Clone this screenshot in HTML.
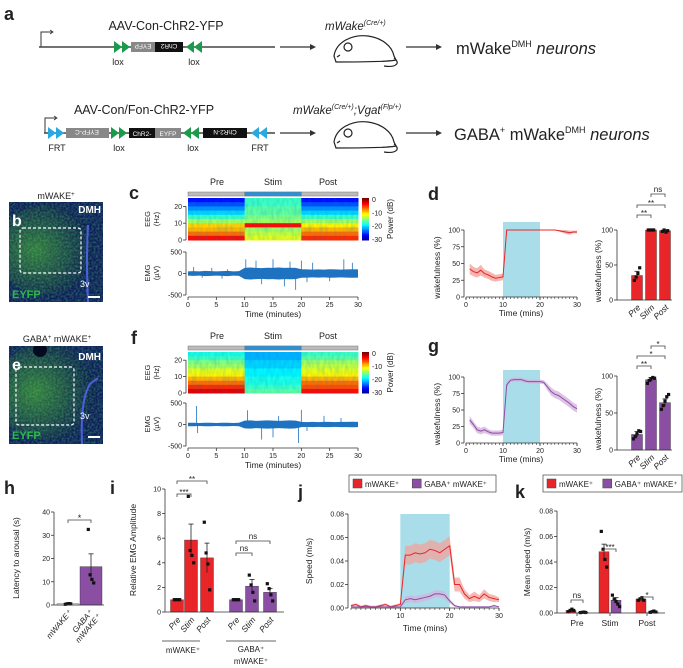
<!DOCTYPE html>
<html><head><meta charset="utf-8"><style>
body{margin:0;background:#fff}
svg{display:block;font-family:"Liberation Sans",Arial,sans-serif}
text{fill:#222}
</style></head><body>
<svg id="fig" width="683" height="668" viewBox="0 0 683 668" xmlns="http://www.w3.org/2000/svg">
<defs>
<filter id="tex" x="0" y="0" width="100%" height="100%"><feTurbulence type="fractalNoise" baseFrequency="0.35 0.12" numOctaves="2" seed="3"/><feColorMatrix type="matrix" values="0 0 0 0 0  0 0 0 0 0.2  0 0 0 0 0.6  0 0 0 0.9 -0.3"/></filter>
<filter id="tex2" x="0" y="0" width="100%" height="100%"><feTurbulence type="fractalNoise" baseFrequency="0.5" numOctaves="2" seed="7"/><feColorMatrix type="matrix" values="0 0 0 0 0.1  0 0 0 0 0.7  0 0 0 0 0.2  0 0 0 1.2 -0.4"/></filter>
<radialGradient id="glow" cx="0.4" cy="0.5" r="0.6"><stop offset="0" stop-color="#3a8a3a"/><stop offset="1" stop-color="#0b1a50"/></radialGradient>
<clipPath id="clipB"><rect x="9" y="202" width="94" height="100"/></clipPath>
<clipPath id="clipE"><rect x="9" y="346" width="94" height="98"/></clipPath>
</defs>

<!-- Panel a -->
<g>
<text x="4" y="20" font-size="18" font-weight="bold">a</text>
<g>
<text x="166" y="30" font-size="12.5" text-anchor="middle">AAV-Con-ChR2-YFP</text>
<path d="M41 47 V32 H52" fill="none" stroke="#333" stroke-width="1"/><path d="M50 30 l3 2 l-3 2" fill="none" stroke="#333" stroke-width="0.8"/>
<line x1="39" y1="47" x2="275" y2="47" stroke="#444" stroke-width="1.5"/>
<polygon points="114,41 122,47 114,53" fill="#1a9a4a"/><polygon points="122,41 130,47 122,53" fill="#1a9a4a"/>
<rect x="131" y="42" width="24" height="10" fill="#888"/><text x="143" y="50" font-size="6.5" text-anchor="middle" transform="rotate(180 143 47)" style="fill:#fff">EYFP</text>
<rect x="155" y="42" width="28" height="10" fill="#111"/><text x="169" y="50" font-size="6.5" text-anchor="middle" transform="rotate(180 169 47)" style="fill:#fff">ChR2</text>
<polygon points="194,41 186,47 194,53" fill="#1a9a4a"/><polygon points="202,41 194,47 202,53" fill="#1a9a4a"/>
<text x="118" y="65" font-size="9" text-anchor="middle">lox</text><text x="194" y="65" font-size="9" text-anchor="middle">lox</text>
</g>
<g>
<text x="144" y="114" font-size="12.5" text-anchor="middle">AAV-Con/Fon-ChR2-YFP</text>
<path d="M45 133 V118 H56" fill="none" stroke="#333" stroke-width="1"/><path d="M54 116 l3 2 l-3 2" fill="none" stroke="#333" stroke-width="0.8"/>
<line x1="44" y1="133" x2="275" y2="133" stroke="#444" stroke-width="1.5"/>
<polygon points="48,127 56,133 48,139" fill="#2aa8e0"/><polygon points="56,127 64,133 56,139" fill="#2aa8e0"/>
<rect x="66" y="128" width="43" height="10" fill="#888"/><text x="87" y="136" font-size="6.5" text-anchor="middle" transform="rotate(180 87 133)" style="fill:#fff">EYFP-C</text>
<polygon points="111,127 119,133 111,139" fill="#1a9a4a"/><polygon points="119,127 127,133 119,139" fill="#1a9a4a"/>
<rect x="129" y="128" width="26" height="10" fill="#111"/><text x="142" y="136" font-size="6.5" text-anchor="middle" style="fill:#fff">ChR2-</text>
<rect x="155" y="128" width="26" height="10" fill="#888"/><text x="168" y="136" font-size="6.5" text-anchor="middle" style="fill:#fff">EYFP</text>
<polygon points="191,127 183,133 191,139" fill="#1a9a4a"/><polygon points="199,127 191,133 199,139" fill="#1a9a4a"/>
<rect x="203" y="128" width="44" height="10" fill="#111"/><text x="225" y="136" font-size="6.5" text-anchor="middle" transform="rotate(180 225 133)" style="fill:#fff">ChR2-N</text>
<polygon points="259,127 251,133 259,139" fill="#2aa8e0"/><polygon points="267,127 259,133 267,139" fill="#2aa8e0"/>
<text x="57" y="151" font-size="9" text-anchor="middle">FRT</text><text x="119" y="151" font-size="9" text-anchor="middle">lox</text><text x="193" y="151" font-size="9" text-anchor="middle">lox</text><text x="260" y="151" font-size="9" text-anchor="middle">FRT</text>
</g>
<g stroke="#333" stroke-width="1.2" fill="#333">
<line x1="280" y1="47" x2="310" y2="47"/><polygon points="310,44 316,47 310,50" stroke="none"/>
<line x1="406" y1="47" x2="436" y2="47"/><polygon points="436,44 442,47 436,50" stroke="none"/>
<line x1="280" y1="133" x2="310" y2="133"/><polygon points="310,130 316,133 310,136" stroke="none"/>
<line x1="406" y1="133" x2="436" y2="133"/><polygon points="436,130 442,133 436,136" stroke="none"/>
</g>
<g fill="none" stroke="#222" stroke-width="1.2">
<path d="M334 56 C336 42 352 34 368 36 C382 38 392 46 394 56 L396 60 C388 62 352 62 336 62 Z"/><path d="M394 58 C400 62 398 68 384 66"/><circle cx="348" cy="47" r="4"/><path d="M340 55 l-3 2"/>
</g>
<g fill="none" stroke="#222" stroke-width="1.2">
<path d="M334 142 C336 128 352 120 368 122 C382 124 392 132 394 142 L396 146 C388 148 352 148 336 148 Z"/><path d="M394 144 C400 148 398 154 384 152"/><circle cx="348" cy="133" r="4"/><path d="M340 141 l-3 2"/>
</g>
<text x="325" y="30" font-size="11.5" font-style="italic">mWake<tspan font-size="7" dy="-5">(Cre/+)</tspan></text>
<text x="293" y="114" font-size="11.5" font-style="italic">mWake<tspan font-size="7" dy="-5">(Cre/+)</tspan><tspan dy="5">;Vgat</tspan><tspan font-size="7" dy="-5">(Flp/+)</tspan></text>
<text x="456" y="54" font-size="16.5">mWake<tspan font-size="9" dy="-7">DMH</tspan><tspan dy="7" font-style="italic"> neurons</tspan></text>
<text x="454" y="140" font-size="16.5">GABA<tspan font-size="9" dy="-7">+</tspan><tspan dy="7"> mWake</tspan><tspan font-size="9" dy="-7">DMH</tspan><tspan dy="7" font-style="italic"> neurons</tspan></text>
</g>

<!-- Panel b & e images -->
<g>
<text x="56" y="199" font-size="9" text-anchor="middle">mWAKE<tspan font-size="6" dy="-3">+</tspan></text>
<g clip-path="url(#clipB)">
<rect x="9" y="202" width="94" height="100" fill="#0e1d5a"/>
<ellipse cx="45" cy="250" rx="48" ry="45" fill="url(#glow)" opacity="0.85"/>
<rect x="9" y="202" width="94" height="100" filter="url(#tex2)" opacity="0.6"/>
<path d="M88 225 Q86 260 88 302" stroke="#4a60e0" stroke-width="2" fill="none"/>
</g>
<rect x="20" y="228" width="61" height="45" fill="none" stroke="#fff" stroke-dasharray="3,2" stroke-width="1.2" rx="3"/>
<text x="12" y="226" font-size="16" font-weight="bold" style="fill:#fff">b</text>
<text x="101" y="213" font-size="10" font-weight="bold" text-anchor="end" style="fill:#fff">DMH</text>
<text x="80" y="287" font-size="9" style="fill:#fff">3v</text>
<text x="12" y="298" font-size="11" font-weight="bold" style="fill:#2fb84a">EYFP</text>
<line x1="88" y1="297" x2="100" y2="297" stroke="#fff" stroke-width="2"/>
</g>
<g>
<text x="57" y="342" font-size="9" text-anchor="middle">GABA<tspan font-size="6" dy="-3">+</tspan><tspan dy="3"> mWAKE</tspan><tspan font-size="6" dy="-3">+</tspan></text>
<g clip-path="url(#clipE)">
<rect x="9" y="346" width="94" height="98" fill="#0e1d5a"/>
<ellipse cx="45" cy="392" rx="50" ry="48" fill="url(#glow)" opacity="0.9"/>
<rect x="9" y="346" width="94" height="98" filter="url(#tex2)" opacity="0.6"/>
<path d="M82 444 Q80 400 90 384 L98 378" stroke="#4a60e0" stroke-width="2" fill="none"/>
<circle cx="40" cy="350" r="7" fill="#050a20"/>
</g>
<rect x="16" y="367" width="58" height="58" fill="none" stroke="#fff" stroke-dasharray="3,2" stroke-width="1.2" rx="3"/>
<text x="12" y="370" font-size="16" font-weight="bold" style="fill:#fff">e</text>
<text x="101" y="360" font-size="10" font-weight="bold" text-anchor="end" style="fill:#fff">DMH</text>
<text x="80" y="419" font-size="9" style="fill:#fff">3v</text>
<text x="12" y="439" font-size="11" font-weight="bold" style="fill:#2fb84a">EYFP</text>
<line x1="88" y1="437" x2="100" y2="437" stroke="#fff" stroke-width="2"/>
</g>

<g id="charts"></g>
</svg>

<script>
// ---------- DATA ----------
const specBands = [25,22.5,20,17.5,15,12.5,10,7.5,5,2.5];
const specSegments = ["Pre","Stim","Post"];
const specC = [[-26,-17,-26],[-24,-17,-24],[-22,-16,-22],[-20,-16,-20],[-17,-15,-17],[-14,-14,-14],[-10,-4,-11],[-9,-14,-9],[-7,-13,-7],[-4,-12,-5]];
const specF = [[-18,-21,-17],[-17,-21,-16],[-15,-20,-14],[-14,-20,-13],[-12,-19,-12],[-11,-19,-11],[-9,-18,-9],[-7,-18,-7],[-5,-17,-6],[-3,-16,-4]];
const emgMinutes = [0,1,2,3,4,5,6,7,8,9,10,11,12,13,14,15,16,17,18,19,20,21,22,23,24,25,26,27,28,29,30];
const emgEnvC = [50,55,50,60,55,50,55,60,50,55,130,140,130,125,135,130,140,130,135,130,100,95,90,95,90,100,95,90,95,100,95];
const emgSpikesC = [[1,150],[2.5,-100],[4.2,130],[6,-120],[7,100],[10.2,330],[12,300],[13,-250],[15,330],[17,-300],[18,280],[19,-380],[20,300],[21,-200],[22,250],[25,-180],[27.5,330],[29,250]];
const emgEnvF = [40,40,35,40,40,35,40,40,35,40,90,95,85,90,95,90,85,90,95,90,60,55,60,55,60,60,55,60,60,65,60];
const emgSpikesF = [[1.5,430],[1.7,-200],[10.5,330],[13,-350],[15,-300],[16,200],[19.5,-430],[20,340],[21,-150],[24,200],[27,150]];

const minutes = [0,1,2,3,4,5,6,7,8,9,10,11,12,13,14,15,16,17,18,19,20,21,22,23,24,25,26,27,28,29,30];
const wakeD = [40,42,38,36,40,35,33,30,28,29,30,100,100,100,100,100,100,100,100,100,100,100,100,100,100,99,98,97,96,97,97];
const wakeDErr = [8,8,7,7,8,6,6,6,5,5,5,0,0,0,0,0,0,0,0,0,0,0,0,0,0,1,2,3,3,2,2];
const wakeG = [40,35,28,20,18,20,17,15,15,15,16,88,95,96,96,96,94,93,93,93,93,92,85,78,74,72,68,64,60,55,52];
const wakeGErr = [6,6,5,5,5,5,4,4,4,4,4,5,3,3,3,3,3,3,3,3,3,3,5,6,6,6,6,6,6,6,6];
const barCats = ["Pre","Stim","Post"];
const barD = [35,100,99];
const barDErr = [6,0,1];
const ptsD = [[28,33,38,46],[100,100,100,100],[98,100,97,99]];
const barG = [21,95,64];
const barGErr = [4,3,5];
const ptsG = [[15,18,22,26,25],[90,94,96,98,97],[55,60,66,72,75]];

const latCats = ["mWAKE+","GABA+ mWAKE+"];
const latVals = [0.5,16.5];
const latErr = [0.1,5.5];
const latPts = [[0.3,0.5,0.6,0.5],[32.5,13,11,9.5]];

const emgCats = ["Pre","Stim","Post","Pre","Stim","Post"];
const emgVals = [1,5.85,4.4,1,2.1,1.6];
const emgErr = [0,1.3,1.2,0,0.55,0.3];
const emgPts = [[1,1,1,1],[9.4,5.0,4.6,4.0],[7.3,4.8,3.9,1.8],[1,1,1,1],[3.0,2.2,1.6,0.9],[2.3,1.9,1.4,0.9]];

const speedRed = [0.002,0.003,0.001,0.002,0.001,0.001,0.002,0.003,0.001,0.002,0.003,0.045,0.045,0.047,0.046,0.047,0.05,0.049,0.047,0.05,0.053,0.02,0.02,0.012,0.008,0.01,0.008,0.012,0.009,0.008,0.007];
const speedRedErr = [0.001,0.001,0.001,0.001,0.001,0.001,0.001,0.001,0.001,0.001,0.001,0.008,0.008,0.008,0.008,0.008,0.008,0.008,0.008,0.008,0.008,0.006,0.006,0.004,0.003,0.004,0.003,0.004,0.003,0.003,0.002];
const speedPurple = [0.001,0.001,0.001,0.001,0.001,0.001,0.001,0.001,0.001,0.001,0.001,0.007,0.008,0.007,0.008,0.009,0.01,0.012,0.012,0.011,0.006,0.002,0.001,0.001,0.001,0.001,0.001,0.001,0.001,0.002,0.001];
const speedPurpleErr = [0,0,0,0,0,0,0,0,0,0,0,0.003,0.003,0.003,0.003,0.003,0.003,0.003,0.003,0.003,0.002,0.001,0,0,0,0,0,0,0,0.001,0];
const speedCats = ["Pre","Stim","Post"];
const meanRed = [0.002,0.048,0.011];
const meanRedErr = [0.0005,0.006,0.001];
const meanPurple = [0.0005,0.01,0.001];
const meanPurpleErr = [0.0002,0.002,0.0005];
const meanRedPts = [[0.001,0.002,0.003,0.002],[0.064,0.05,0.042,0.036],[0.01,0.011,0.012,0.01]];
const meanPurplePts = [[0.0003,0.0005,0.0007,0.0004],[0.014,0.011,0.009,0.007,0.005],[0.0005,0.001,0.0015,0.0008]];

const RED="#e8262a", PUR="#8a4ea3", REDL="#f2a39c", PURL="#d4b3de", SHADE="#a8dde9", EMGC="#1f72c0";

// ---------- HELPERS ----------
const NS="http://www.w3.org/2000/svg";
const root=document.getElementById('charts');
function mk(tag,attrs,parent){const e=document.createElementNS(NS,tag);for(const k in attrs)e.setAttribute(k,attrs[k]);(parent||root).appendChild(e);return e;}
function lin(d0,d1,r0,r1){return v=>r0+(v-d0)/(d1-d0)*(r1-r0);}
function txt(x,y,s,size,anchor,parent,extra){const t=mk('text',Object.assign({x:x,y:y,'font-size':size,'text-anchor':anchor||'start'},extra||{}),parent);t.textContent=s;return t;}
function jet(db){let v=Math.max(0,Math.min(1,(db+30)/30));const r=Math.max(0,Math.min(1,1.5-Math.abs(4*v-3))),g=Math.max(0,Math.min(1,1.5-Math.abs(4*v-2))),b=Math.max(0,Math.min(1,1.5-Math.abs(4*v-1)));return `rgb(${Math.round(r*255)},${Math.round(g*255)},${Math.round(b*255)})`;}
function yAxis(g,x,sy,ticks,labels,size){
  const lo=Math.min(...ticks),hi=Math.max(...ticks);
  mk('line',{x1:x,y1:sy(lo),x2:x,y2:sy(hi),stroke:'#333','stroke-width':0.8},g);
  ticks.forEach((t,i)=>{mk('line',{x1:x-3,y1:sy(t),x2:x,y2:sy(t),stroke:'#333','stroke-width':0.8},g);
    txt(x-4,sy(t)+2.5,labels[i],size||7,'end',g);});
}
function xAxis(g,y,sx,lo,hi,minor,ticks,labels,size){
  mk('line',{x1:sx(lo),y1:y,x2:sx(hi),y2:y,stroke:'#333','stroke-width':0.8},g);
  if(minor)for(let v=lo;v<=hi;v+=minor)mk('line',{x1:sx(v),y1:y,x2:sx(v),y2:y+2,stroke:'#333','stroke-width':0.6},g);
  ticks.forEach((t,i)=>{mk('line',{x1:sx(t),y1:y,x2:sx(t),y2:y+3,stroke:'#333','stroke-width':0.8},g);
    txt(sx(t),y+10,labels[i],size||7,'middle',g);});
}
function panelLetter(x,y,s){const t=txt(x,y,s,18,'start',root,{'font-weight':'bold'});}
function bracket(g,x1,x2,y,label,size){mk('path',{d:`M${x1} ${y+3} V${y} H${x2} V${y+3}`,fill:'none',stroke:'#444','stroke-width':0.8},g);txt((x1+x2)/2,label==='ns'?y-2:y+1,label,size||8,'middle',g);}
function rotLabel(x,y,s,size,parent){txt(x,y,s,size,'middle',parent,{transform:`rotate(-90 ${x} ${y})`});}

// ---------- SPECTROGRAM + EMG ----------
function specPanel(name,y0,y1,mat,emgY,env,spikes,titleY,barY){
  const g=mk('g',{});
  
  
  const sx=lin(0,30,188,358), sf=lin(0,25,y1,y0);
  txt(217,titleY,'Pre',9,'middle',g);txt(273,titleY,'Stim',9,'middle',g);txt(328,titleY,'Post',9,'middle',g);
  mk('rect',{x:sx(0),y:barY,width:sx(30)-sx(0),height:4,fill:'#bbb',stroke:'#777','stroke-width':0.5},g);
  mk('rect',{x:sx(10),y:barY,width:sx(20)-sx(10),height:4,fill:'#2a90d8',stroke:'#777','stroke-width':0.5},g);
  specBands.forEach((top,bi)=>{specSegments.forEach((s,si)=>{
    const c=mk('rect',{x:sx(si*10),y:sf(top),width:sx(10)-sx(0)+0.5,height:sf(top-2.5)-sf(top)+0.5,fill:jet(mat[bi][si])},g);
    
    
  });});
  mk('rect',{x:sx(0),y:y0,width:sx(30)-sx(0),height:y1-y0,filter:'url(#tex)',opacity:0.45},g);
  yAxis(g,186,sf,[0,10,20],['0','10','20'],7);
  rotLabel(150,(y0+y1)/2,'EEG',7.5,g);rotLabel(159,(y0+y1)/2,'(Hz)',7.5,g);
  for(let i=0;i<30;i++){mk('rect',{x:362,y:y0+(y1-y0)*i/30,width:7,height:(y1-y0)/30+0.5,fill:jet(-i)},g);}
  const sc=lin(0,-30,y0+1,y1-1);
  [0,-10,-20,-30].forEach(v=>txt(372,sc(v)+3,String(v),7,'start',g));
  rotLabel(393,(y0+y1)/2,'Power (dB)',8,g);
  const se=lin(-500,500,emgY+43,emgY);
  const up=env.map((a,i)=>`${sx(emgMinutes[i])},${se(a)}`).join(' ');
  const dn=env.map((a,i)=>`${sx(emgMinutes[i])},${se(-a)}`).reverse().join(' ');
  const area=mk('polygon',{points:up+' '+dn,fill:EMGC},g);
  
  
  spikes.forEach(s=>{const l=mk('line',{x1:sx(s[0]),y1:se(0),x2:sx(s[0]),y2:se(s[1]),stroke:EMGC,'stroke-width':0.8},g);
    
    });
  yAxis(g,186,se,[-500,0,500],['-500','0','500'],7);
  rotLabel(150,emgY+21,'EMG',7.5,g);rotLabel(159,emgY+21,'(µV)',7.5,g);
  xAxis(g,emgY+45,sx,0,30,0,[0,5,10,15,20,25,30],['0','5','10','15','20','25','30'],7);
  txt(273,emgY+65,'Time (minutes)',8.5,'middle',g);
}
panelLetter(129,199,'c');
specPanel('panel-c-eeg-emg',198,240,specC,252,emgEnvC,emgSpikesC,185,192);
panelLetter(131,344,'f');
specPanel('panel-f-eeg-emg',352,393,specF,403,emgEnvF,emgSpikesF,339,346);

// ---------- WAKEFULNESS LINES ----------
function wakeLine(name,y0,y100,vals,err,col,light,shadeTop){
  const g=mk('g',{});
  
  
  const sx=lin(0,30,466,577), sy=lin(0,100,y0,y100);
  const sh=mk('rect',{x:sx(10),y:shadeTop,width:sx(20)-sx(10),height:y0-shadeTop,fill:SHADE},g);
  
  
  const pts=minutes.slice(1);
  const up=pts.map(m=>`${sx(m)},${sy(vals[m]+err[m])}`).join(' ');
  const dn=pts.map(m=>`${sx(m)},${sy(vals[m]-err[m])}`).reverse().join(' ');
  const band=mk('polygon',{points:up+' '+dn,fill:light,opacity:0.8},g);
  
  
  const ln=mk('polyline',{points:pts.map(m=>`${sx(m)},${sy(vals[m])}`).join(' '),fill:'none',stroke:col,'stroke-width':1},g);
  
  
  yAxis(g,464,sy,[0,25,50,75,100],['0','25','50','75','100'],7);
  xAxis(g,y0,sx,0,30,1,[0,10,20,30],['0','10','20','30'],7);
  txt(521,y0+19,'Time (mins)',8.5,'middle',g);
  rotLabel(440,(y0+y100)/2+4,'wakefulness (%)',8.5,g);
}
panelLetter(428,200,'d');
wakeLine('panel-d-line',297,230,wakeD,wakeDErr,RED,REDL,222);
panelLetter(428,352,'g');
wakeLine('panel-g-line',443,377,wakeG,wakeGErr,PUR,PURL,370);

// ---------- BAR HELPER ----------
function bars(g,centers,w,vals,err,pts,sy,colors){
  vals.forEach((v,i)=>{
    const b=mk('rect',{x:centers[i]-w/2,y:sy(v),width:w,height:sy(0)-sy(v),fill:colors[i],stroke:'#333','stroke-width':0.4},g);
    
    
    mk('line',{x1:centers[i],y1:sy(v+err[i]),x2:centers[i],y2:sy(v-err[i]),stroke:'#222','stroke-width':0.8},g);
    mk('line',{x1:centers[i]-2.5,y1:sy(v+err[i]),x2:centers[i]+2.5,y2:sy(v+err[i]),stroke:'#222','stroke-width':0.8},g);
    pts[i].forEach((p,j)=>{const d=mk('rect',{x:centers[i]-1.6+(j-pts[i].length/2+0.5)*1.8,y:sy(p)-1.6,width:3.2,height:3.2,fill:'#111'},g);
      
      });
  });
}
function wakeBars(name,y0,y100,vals,err,pts,col,sigs){
  const g=mk('g',{});
  
  
  const sy=lin(0,100,y0,y100), c=[637,651,665];
  bars(g,c,11,vals,err,pts,sy,[col,col,col]);
  yAxis(g,617,sy,[0,50,100],['0','50','100'],7);
  mk('line',{x1:617,y1:y0,x2:672,y2:y0,stroke:'#333','stroke-width':0.8},g);
  barCats.forEach((s,i)=>txt(c[i]+4,y0+8,s,8.5,'end',g,{transform:`rotate(-45 ${c[i]+4} ${y0+8})`,'font-style':'italic'}));
  rotLabel(601,(y0+y100)/2+6,'wakefulness (%)',8.5,g);
  sigs.forEach(s=>bracket(g,c[s[0]],c[s[1]],s[2],s[3],8));
}
wakeBars('panel-d-bars',300,230,barD,barDErr,ptsD,RED,[[0,1,215,'**'],[0,2,205,'**'],[1,2,194,'ns']]);
wakeBars('panel-g-bars',450,376,barG,barGErr,ptsG,PUR,[[0,1,366,'**'],[0,2,356,'*'],[1,2,346,'*']]);

// ---------- h ----------
panelLetter(4,494,'h');
(function(){
  const g=mk('g',{});
  
  
  const sy=lin(0,40,605,512), c=[68,91];
  bars(g,c,22,latVals,latErr,latPts,sy,['#ffffff',PUR]);
  yAxis(g,54,sy,[0,10,20,30,40],['0','10','20','30','40'],7);
  mk('line',{x1:54,y1:605,x2:104,y2:605,stroke:'#333','stroke-width':0.8},g);
  txt(c[0]+4,613,'mWAKE⁺',8,'end',g,{transform:`rotate(-50 ${c[0]+4} 613)`,'font-style':'italic'});
  txt(c[1]+2,613,'GABA⁺',8,'end',g,{transform:`rotate(-50 ${c[1]+2} 613)`,'font-style':'italic'});
  txt(c[1]+10,617,'mWAKE⁺',8,'end',g,{transform:`rotate(-50 ${c[1]+10} 617)`,'font-style':'italic'});
  rotLabel(19,558,'Latency to arousal (s)',8.5,g);
  bracket(g,c[0],c[1],520,'*',9);
})();

// ---------- i ----------
panelLetter(110,494,'i');
(function(){
  const g=mk('g',{});
  
  
  const sy=lin(0,10,612,489), c=[177,191,207,236,252,270];
  bars(g,c,13,emgVals,emgErr,emgPts,sy,[RED,RED,RED,PUR,PUR,PUR]);
  yAxis(g,165,sy,[0,2,4,6,8,10],['0','2','4','6','8','10'],7);
  mk('line',{x1:165,y1:612,x2:284,y2:612,stroke:'#333','stroke-width':0.8},g);
  emgCats.forEach((s,i)=>txt(c[i]+4,620,s,8.5,'end',g,{transform:`rotate(-50 ${c[i]+4} 620)`,'font-style':'italic'}));
  rotLabel(136,550,'Relative EMG Amplitude',8.5,g);
  mk('line',{x1:162,y1:641,x2:200,y2:641,stroke:'#333','stroke-width':0.8},g);
  mk('line',{x1:226,y1:641,x2:276,y2:641,stroke:'#333','stroke-width':0.8},g);
  txt(183,653,'mWAKE⁺',8,'middle',g);txt(251,652,'GABA⁺',8,'middle',g);txt(251,664,'mWAKE⁺',8,'middle',g);
  bracket(g,c[0],c[1],494,'***',8);bracket(g,c[0],c[2],481,'**',8);
  bracket(g,c[3],c[4],553,'ns',8);bracket(g,c[3],c[5],541,'ns',8);
})();

// ---------- j ----------
function legend(x,y,w,name){
  const g=mk('g',{});
  
  
  mk('rect',{x:x,y:y,width:w,height:17,fill:'#fff',stroke:'#444','stroke-width':0.7},g);
  mk('rect',{x:x+4,y:y+4,width:9,height:9,fill:RED,stroke:'#444','stroke-width':0.5},g);
  txt(x+16,y+12,'mWAKE⁺',8,'start',g);
  mk('rect',{x:x+w*0.43,y:y+4,width:9,height:9,fill:PUR,stroke:'#444','stroke-width':0.5},g);
  txt(x+w*0.43+12,y+12,'GABA⁺ mWAKE⁺',8,'start',g);
}
panelLetter(298,498,'j');
legend(349,475,147,'legend-j');
(function(){
  const g=mk('g',{});
  
  
  const sx=lin(0,30,351,499), sy=lin(0,0.08,608,514);
  const sh=mk('rect',{x:sx(10),y:514,width:sx(20)-sx(10),height:94,fill:SHADE},g);
  
  
  [[speedRed,speedRedErr,RED,REDL,'mwake-series'],[speedPurple,speedPurpleErr,PUR,PURL,'gaba-mwake-series']].forEach(s=>{
    const up=minutes.map(m=>`${sx(m)},${sy(s[0][m]+s[1][m])}`).join(' ');
    const dn=minutes.map(m=>`${sx(m)},${sy(Math.max(0,s[0][m]-s[1][m]))}`).reverse().join(' ');
    const b=mk('polygon',{points:up+' '+dn,fill:s[3],opacity:0.75},g);
    
    
    const l=mk('polyline',{points:minutes.map(m=>`${sx(m)},${sy(s[0][m])}`).join(' '),fill:'none',stroke:s[2],'stroke-width':1},g);
    
    
  });
  yAxis(g,348,sy,[0,0.02,0.04,0.06,0.08],['0.00','0.02','0.04','0.06','0.08'],7);
  xAxis(g,608,sx,0,30,1,[10,20,30],['10','20','30'],7);
  txt(425,631,'Time (mins)',8.5,'middle',g);
  rotLabel(312,561,'Speed (m/s)',8.5,g);
})();

// ---------- k ----------
panelLetter(515,498,'k');
legend(543,475,139,'legend-k');
(function(){
  const g=mk('g',{});
  
  
  const sy=lin(0,0.08,613,511), gc=[577,610,647];
  const c=[],v=[],e=[],p=[],col=[];
  gc.forEach((x,i)=>{c.push(x-6,x+6);v.push(meanRed[i],meanPurple[i]);e.push(meanRedErr[i],meanPurpleErr[i]);p.push(meanRedPts[i],meanPurplePts[i]);col.push(RED,PUR);});
  bars(g,c,10,v,e,p,sy,col);
  yAxis(g,557,sy,[0,0.02,0.04,0.06,0.08],['0.00','0.02','0.04','0.06','0.08'],7);
  mk('line',{x1:557,y1:613,x2:665,y2:613,stroke:'#333','stroke-width':0.8},g);
  speedCats.forEach((s,i)=>{mk('line',{x1:gc[i],y1:613,x2:gc[i],y2:616,stroke:'#333','stroke-width':0.8},g);txt(gc[i],626,s,8.5,'middle',g);});
  rotLabel(530,562,'Mean speed (m/s)',8.5,g);
  bracket(g,c[0],c[1],600,'ns',8);bracket(g,c[2],c[3],549,'***',8);bracket(g,c[4],c[5],597,'*',8);
})();
</script>
</body></html>
